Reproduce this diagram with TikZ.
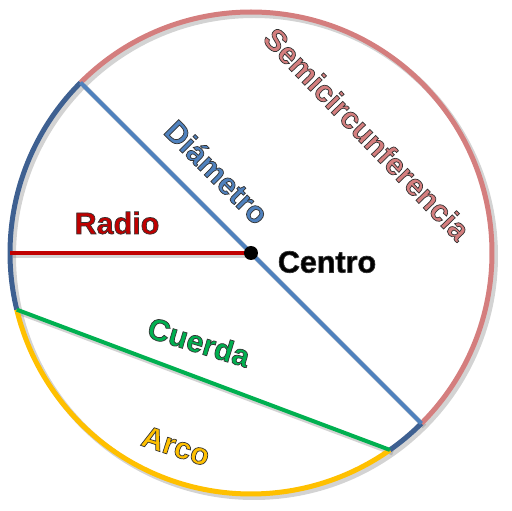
\documentclass[tikz,border=0pt]{standalone}
\usepackage{fontspec}
\setmainfont{Liberation Sans}
\usetikzlibrary{positioning}
\definecolor{semic}{RGB}{212,126,126}
\definecolor{arcblue}{RGB}{62,96,145}
\definecolor{diamc}{RGB}{79,129,189}
\definecolor{radc}{RGB}{192,0,0}
\definecolor{cuerc}{RGB}{0,176,80}
\definecolor{arcoc}{RGB}{255,192,0}

% filled text with a dark outline
\newcommand{\lbl}[2]{\textcolor{#1}{\special{pdf:literal direct 2 Tr 0.7 w 0.2 0.2 0.2 RG}#2\special{pdf:literal direct 0 Tr}}}

\begin{document}
\begin{tikzpicture}[x=1pt,y=1pt,
    rim/.style={line width=5pt},
    seg/.style={line width=4pt},
    shade/.style={line width=6pt,gray,opacity=.35},
    word/.style={font=\bfseries\fontsize{30.5}{30.5}\selectfont,inner sep=0pt}]
  \useasboundingbox (-251,-258) rectangle (261,253);
  % points on the circle
  \coordinate (O) at (0,0);
  \coordinate (dA) at (135:241);
  \coordinate (dB) at (-45:241);
  \coordinate (rA) at (180:241);
  \coordinate (cA) at (193.6:241);
  \coordinate (cB) at (-54.8:241);
  % shadows
  \draw[shade] (3,-3) circle[radius=241];
  \draw[shade,line width=5pt] ([shift={(3,-3)}]dA) -- ([shift={(3,-3)}]dB);
  \draw[shade,line width=5pt] ([shift={(3,-3)}]cA) -- ([shift={(3,-3)}]cB);
  \draw[shade,line width=5pt] ([shift={(3,-3)}]rA) -- (3,-3);
  % circle
  \draw[rim,semic] (dB) arc[start angle=-45,end angle=135,radius=241];
  \draw[rim,arcblue] (dA) arc[start angle=135,end angle=193.6,radius=241];
  \draw[rim,arcoc] (cA) arc[start angle=193.6,end angle=305.2,radius=241];
  \draw[rim,arcblue] (cB) arc[start angle=305.2,end angle=315,radius=241];
  % segments
  \draw[seg,diamc] (dA) -- (dB);
  \draw[seg,radc] (rA) -- (O);
  \draw[seg,cuerc] (cA) -- (cB);
  \fill[black] (O) circle[radius=7];
  % labels
  \node[word,rotate=-46] (semi) at (116,119) {\lbl{semic}{Semicircunferencia}};
  \node[word,rotate=-45] (diam) at (-34,81) {\lbl{diamc}{Diámetro}};
  \node[word] (radio) at (-134,30) {\lbl{radc}{Radio}};
  \node[word] (centro) at (76,-9) {\lbl{black}{Centro}};
  \node[word,rotate=-17] (cuerda) at (-52,-89) {\lbl{cuerc}{Cuerda}};
  \node[word,rotate=-18] (arco) at (-75,-193) {\lbl{arcoc}{Arco}};
\end{tikzpicture}
\end{document}
